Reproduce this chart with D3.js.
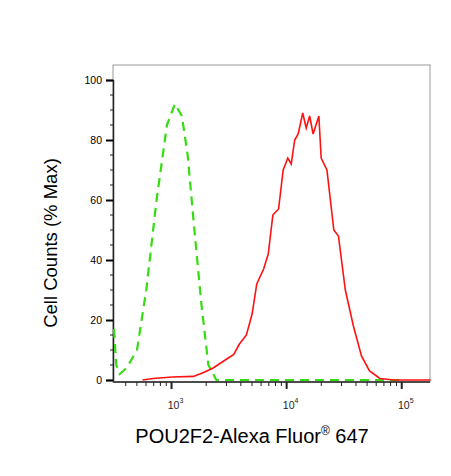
<!DOCTYPE html>
<html><head><meta charset="utf-8">
<script src="https://cdn.jsdelivr.net/npm/d3@7"></script>
<style>body{margin:0;background:#fff}text{font-family:"Liberation Sans",Arial,sans-serif}</style>
</head><body><div id="chart"></div>
<script>
const width = 451, height = 476,
    margin = ({ top: 65, right: 21, bottom: 94, left: 113 });

// stained sample (red), fluorescence intensity vs % max
const redX = [560, 690, 1020, 1550, 1900, 2300, 2630, 3020, 3470, 3890, 4470, 5010, 5500, 6310, 6920, 7590, 8510, 9330, 10230, 10960, 11750, 12590, 13800, 14790, 15850, 16980, 19050, 19950, 22390, 25700, 28180, 32360, 38020, 44670, 52480, 64570, 85110, 177800];
const redY = [0, 0.5, 1, 1.2, 2.5, 4, 5.5, 7, 8.5, 12, 15, 22, 32, 37, 42, 55, 57, 70, 74, 72, 80, 82, 89, 84, 88, 82, 88, 74, 70, 50, 48, 30, 18, 8, 3, 0.5, 0, 0];
// isotype control (green dashed)
const greenX = [316, 331, 355, 407, 501, 603, 741, 912, 1070, 1230, 1380, 1580, 1820, 2090, 2450, 100000];
const greenY = [17, 5, 2, 4, 10, 30, 60, 85, 92, 88, 75, 50, 25, 5, 0, 0];
const yTicks = [0, 20, 40, 60, 80, 100];
const xTicks = [1e3, 1e4, 1e5];

const svg = d3.select("#chart").append("svg")
    .attr("width", width).attr("height", height);

let x = d3.scaleLog().domain([310, 176000]).range([margin.left, width - margin.right]);
let y = d3.scaleLinear().domain([0, 100]).range([380, 80]);

// frame
svg.append("rect")
    .attr("x", margin.left).attr("y", margin.top)
    .attr("width", width - margin.right - margin.left)
    .attr("height", height - margin.bottom - margin.top)
    .attr("fill", "none").attr("stroke", "#999").attr("stroke-width", 1);

/* y axis */
let yAxis = svg.append("g").attr("transform", `translate(${margin.left},0)`);
yAxis.call(d3.axisLeft(y).tickValues(yTicks).tickSize(7).tickPadding(4))
    .call(g => g.select(".domain").attr("stroke", "#222").attr("stroke-width", 1.5))
    .call(g => g.selectAll(".tick line").attr("stroke-width", 2))
    .call(g => g.selectAll(".tick text").attr("font-size", 10.5).attr("font-family", "Liberation Sans, Arial"));
yAxis.selectAll(".minor").data(d3.range(0, 101, 5).filter(v => v % 20))
    .join("line").attr("x1", -3).attr("x2", 0)
    .attr("y1", d => y(d)).attr("y2", d => y(d)).attr("stroke", "#222");

/* x axis */
let xAxis = svg.append("g").attr("transform", `translate(0,${height - margin.bottom})`);
xAxis.append("line").attr("x1", margin.left).attr("x2", width - margin.right)
    .attr("stroke", "#222").attr("stroke-width", 1.5);
let minors = [];
for (let e of [100, 1000, 10000, 100000]) for (let k = 2; k < 10; k++) minors.push(e * k);
xAxis.selectAll(".minor").data(minors.filter(v => v > 310 && v < 176000))
    .join("line").attr("x1", d => x(d)).attr("x2", d => x(d))
    .attr("y1", 0).attr("y2", 4).attr("stroke", "#222");
xAxis.selectAll(".major").data(xTicks).join("line")
    .attr("x1", d => x(d)).attr("x2", d => x(d))
    .attr("y1", 0).attr("y2", 7).attr("stroke", "#222").attr("stroke-width", 2);
let lab = xAxis.selectAll(".lab").data(xTicks).join("text")
    .attr("x", d => x(d) + 4).attr("y", 27).attr("text-anchor", "middle")
    .attr("font-size", 10.5).attr("fill", "#222");
lab.append("tspan").text("10");
lab.append("tspan").attr("dy", -6).attr("font-size", 7).text(d => Math.round(Math.log10(d)));

/* labels */
svg.append("text")
    .attr("text-anchor", "middle")
    .attr("transform", `translate(57,243) rotate(-90)`)
    .attr("font-size", 18.5).text("Cell Counts (% Max)");
let xl = svg.append("text").attr("x", 252).attr("y", 443)
    .attr("text-anchor", "middle").attr("font-size", 20);
xl.append("tspan").text("POU2F2-Alexa Fluor");
xl.append("tspan").attr("font-size", 12).attr("dy", -8).text("®");
xl.append("tspan").attr("dy", 8).text(" 647");

/* lines */
let line = d3.line().x(d => x(d[0])).y(d => y(d[1]));
svg.append("path").datum(greenX.map((v, i) => [v, greenY[i]]))
    .attr("d", line).attr("fill", "none")
    .attr("stroke", "#33dd11").attr("stroke-width", 2.2).attr("stroke-dasharray", "9,6");
svg.append("path").datum(redX.map((v, i) => [v, redY[i]]))
    .attr("d", line).attr("fill", "none")
    .attr("stroke", "#ff1111").attr("stroke-width", 1.6);
</script></body></html>
